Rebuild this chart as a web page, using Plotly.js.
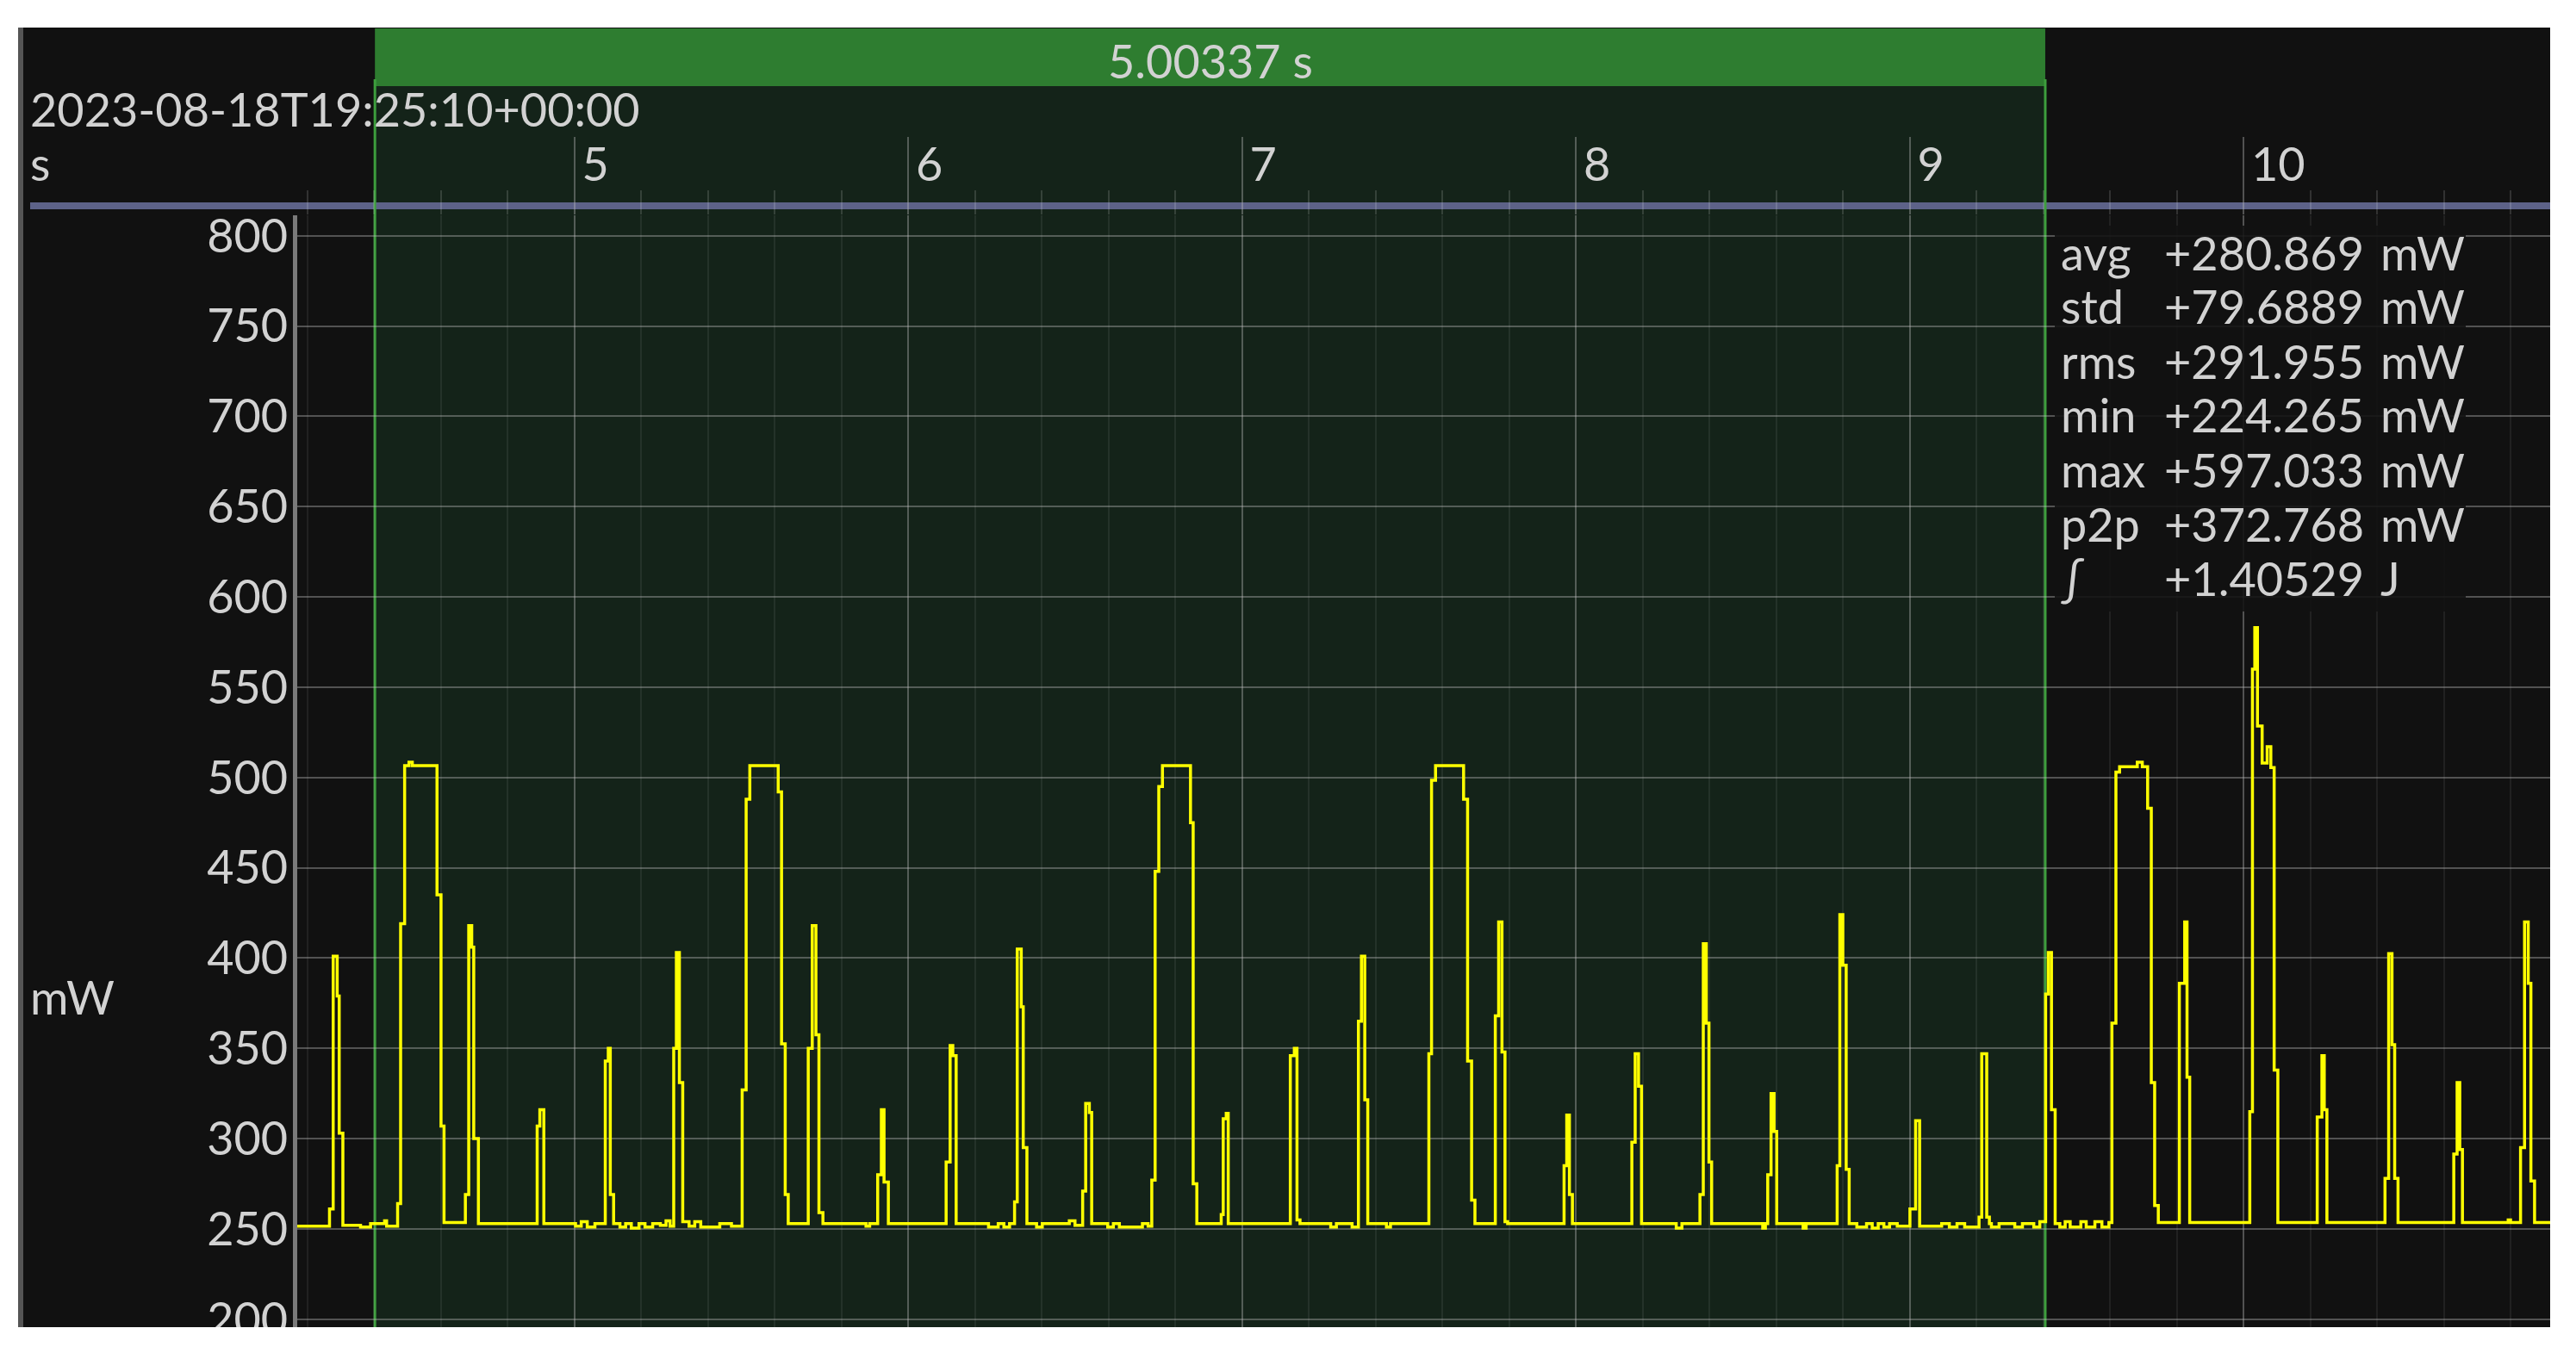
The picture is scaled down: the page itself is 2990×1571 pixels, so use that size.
<!DOCTYPE html>
<html>
<head>
<meta charset="utf-8">
<script src="https://cdn.plot.ly/plotly-3.0.1.min.js"></script>
<style>
  html, body { margin: 0; padding: 0; background: #ffffff; }
  #wrap { position: absolute; left: 21px; top: 32px; width: 2939px; height: 1509px; overflow: hidden; }
  #plot { width: 2939px; height: 1509px; }
</style>
</head>
<body>
<div id="wrap"><div id="plot"></div></div>
<script>
// power trace (s, mW), drawn as steps
var times = [
  4.170, 4.267, 4.278, 4.290, 4.296, 4.307, 4.360, 4.390, 4.432, 4.438,
  4.471, 4.480, 4.492, 4.505, 4.515, 4.589, 4.601, 4.610,
  4.674, 4.684, 4.693, 4.699, 4.713,
  4.889, 4.897, 4.909, 5.004, 5.021, 5.039, 5.062,
  5.093, 5.102, 5.108, 5.118,
  5.137, 5.154, 5.171, 5.194, 5.212, 5.235, 5.258, 5.275, 5.287,
  5.298, 5.306, 5.315, 5.325,
  5.344, 5.361, 5.379, 5.436, 5.471,
  5.503, 5.515, 5.526, 5.611, 5.621, 5.632, 5.641,
  5.701, 5.713, 5.724, 5.733, 5.745, 5.874, 5.885,
  5.909, 5.920, 5.928, 5.941,
  6.114, 6.126, 6.134, 6.144, 6.241, 6.270, 6.287, 6.304,
  6.319, 6.327, 6.339, 6.345, 6.356, 6.385, 6.402, 6.483, 6.500,
  6.523, 6.532, 6.543, 6.550, 6.598, 6.615, 6.633, 6.702, 6.719,
  6.730, 6.740, 6.751, 6.762, 6.846, 6.854, 6.865,
  6.938, 6.944, 6.953, 6.959,
  7.145, 7.157, 7.165, 7.174, 7.266, 7.283, 7.330,
  7.349, 7.358, 7.368, 7.377, 7.433, 7.445,
  7.560, 7.568, 7.580, 7.664, 7.676, 7.688, 7.698,
  7.759, 7.769, 7.779, 7.788, 7.796,
  7.965, 7.973, 7.981, 7.990,
  8.168, 8.178, 8.188, 8.197, 8.301, 8.318,
  8.372, 8.382, 8.391, 8.399, 8.407, 8.560, 8.568,
  8.575, 8.585, 8.594, 8.602, 8.681, 8.690,
  8.783, 8.791, 8.800, 8.810, 8.819,
  8.842, 8.871, 8.888, 8.906, 8.923, 8.940, 8.963,
  9.001, 9.018, 9.030, 9.096, 9.119, 9.142, 9.165,
  9.208, 9.216, 9.231, 9.239, 9.245, 9.268, 9.315, 9.338, 9.372, 9.390,
  9.4075, 9.4155, 9.425, 9.436,
  9.450, 9.466, 9.481, 9.513, 9.529, 9.555, 9.576, 9.597,
  9.606, 9.618, 9.629, 9.682, 9.697, 9.713, 9.724, 9.734, 9.745,
  9.808, 9.824, 9.831, 9.839,
  10.019, 10.027, 10.034, 10.042, 10.056, 10.071, 10.082, 10.092, 10.103,
  10.221, 10.235, 10.242, 10.250,
  10.424, 10.435, 10.445, 10.453, 10.463,
  10.630, 10.640, 10.648, 10.656, 10.793, 10.800,
  10.830, 10.842, 10.853, 10.861, 10.872, 10.919
];
var power = [
  251.5, 261, 401, 379, 303, 252, 251, 253, 254.5, 251.5,
  264, 419, 506.5, 508.5, 506.5, 435, 307, 253.5,
  269, 418, 406, 300, 253,
  307, 316, 253, 251.5, 254, 251, 253,
  343, 350, 269, 253,
  251, 253, 250.5, 253, 251, 253, 252, 254.5, 251.5,
  350, 403, 331, 254,
  251.5, 254, 251, 253, 251.5,
  327, 488, 506.5, 492, 352.5, 269, 253,
  350, 418, 357.5, 259, 253, 251.5, 253,
  280, 316, 276, 253,
  287, 351.5, 346, 253, 251, 253, 251, 253,
  265, 405, 373, 295, 253, 251, 253, 254.5, 252,
  271, 319.5, 314.5, 253, 251, 253, 251, 253, 251.5,
  277, 448, 495, 506.5, 475, 275, 253,
  258, 311, 314, 253,
  346, 350, 255, 253, 251, 253, 251,
  365, 401, 321.5, 253, 251, 253,
  347, 498.5, 506.5, 488, 343, 266, 253,
  368, 420, 348, 254, 253,
  285, 313, 269, 253,
  298, 347, 329, 253, 250.5, 253,
  269, 408, 364, 287, 253, 250.5, 253,
  280, 325, 304, 253, 250.5, 253,
  285, 424, 396, 283, 253,
  251, 253, 250.5, 253, 251, 253, 251.5,
  261, 310, 251.5, 253, 251, 253, 251,
  256.5, 347, 256.5, 253, 251, 253, 251, 253, 251, 254,
  380, 403, 316, 253,
  251, 254, 251, 254, 251, 254, 251, 253.5,
  364, 503, 506, 508.5, 506, 483, 331, 263, 253.5,
  386, 420, 334, 253.5,
  315, 560, 583, 528.5, 508, 517, 505.5, 338, 253.5,
  312, 346, 316, 253.5,
  278, 402.5, 352, 278, 253.5,
  291.5, 331, 294, 253.5, 255, 253.5,
  295, 420, 386, 276.5, 253.5, 253.5
];

var selStart = 4.403;
var selDuration = 5.00337;
var selEnd = selStart + selDuration;
var stampText = '2023-08-18T19:25:10+00:00';

var statNames = ['avg', 'std', 'rms', 'min', 'max', 'p2p', '\u222B'];
var statValues = ['+280.869', '+79.6889', '+291.955', '+224.265', '+597.033', '+372.768', '+1.40529'];
var statUnits = ['mW', 'mW', 'mW', 'mW', 'mW', 'mW', 'J'];

var xRange = [4.1703, 10.9187];
var yRange = [195.6, 811.3];

// plot box in page pixels
var PL = 345, PR = 2960, PT = 250, PB = 1541;
function px(X) { return (X - PL) / (PR - PL); }
function py(Y) { return (PB - Y) / (PB - PT); }
function fx(t) { return (t - xRange[0]) / (xRange[1] - xRange[0]); }

var txt = '#d2d2d2';
var fnt = 'Lato, "Open Sans", sans-serif';
var grid = 'rgba(190,190,190,0.38)';

var shapes = [
  {type: 'rect', xref: 'paper', yref: 'paper', x0: fx(selStart), x1: fx(selEnd), y0: 0, y1: py(100),
   fillcolor: '#142319', line: {width: 0}, layer: 'below'},
  {type: 'rect', xref: 'paper', yref: 'paper', x0: fx(selStart), x1: fx(selEnd), y0: py(100), y1: py(33),
   fillcolor: '#2e7d30', line: {width: 0}, layer: 'below'},
  {type: 'line', xref: 'paper', yref: 'paper', x0: px(35), x1: 1, y0: py(239), y1: py(239),
   line: {color: '#5d6288', width: 8}, layer: 'below'},
  {type: 'line', xref: 'paper', yref: 'paper', x0: fx(selStart), x1: fx(selStart), y0: 0, y1: py(92),
   line: {color: '#3d9e3d', width: 3}, layer: 'below'},
  {type: 'line', xref: 'paper', yref: 'paper', x0: fx(selEnd), x1: fx(selEnd), y0: 0, y1: py(92),
   line: {color: '#3d9e3d', width: 3}, layer: 'below'},
  {type: 'line', xref: 'paper', yref: 'paper', x0: px(24), x1: px(24), y0: 0, y1: py(32),
   line: {color: '#555555', width: 6}, layer: 'below'},
  {type: 'rect', xref: 'paper', yref: 'paper', x0: px(2385), x1: px(2862), y0: py(710), y1: py(262),
   fillcolor: '#111111', opacity: 0.88, line: {width: 0}, layer: 'above'}
];

var annotations = [
  {text: stampText, x: px(33), y: py(126), xanchor: 'left', yanchor: 'middle'},
  {text: 's', x: px(33), y: py(190), xanchor: 'left', yanchor: 'middle'},
  {text: 'mW', x: px(33), y: py(1157), xanchor: 'left', yanchor: 'middle'},
  {text: selDuration.toFixed(5) + ' s', x: fx((selStart + selEnd) / 2), y: py(71), xanchor: 'center', yanchor: 'middle'}
];
for (var i = 0; i < statNames.length; i++) {
  var yy = py(293 + 63 * i);
  annotations.push({text: statNames[i], x: px(2390), y: yy, xanchor: 'left', yanchor: 'middle'});
  annotations.push({text: statValues[i], x: px(2510), y: yy, xanchor: 'left', yanchor: 'middle'});
  annotations.push({text: statUnits[i], x: px(2761), y: yy, xanchor: 'left', yanchor: 'middle'});
}
annotations.forEach(function (a) {
  a.xref = 'paper'; a.yref = 'paper'; a.showarrow = false;
  a.font = {family: fnt, size: 54, color: txt};
});

var trace = {
  x: times, y: power, type: 'scatter', mode: 'lines',
  line: {color: '#ffff00', width: 3.5, shape: 'hv'},
  hoverinfo: 'skip'
};

var layout = {
  width: 2939, height: 1509,
  margin: {l: PL - 21, r: 0, t: PT - 32, b: 0},
  paper_bgcolor: '#111111',
  plot_bgcolor: '#111111',
  showlegend: false,
  xaxis: {
    range: xRange, side: 'top', tick0: 0, dtick: 1,
    showgrid: true, gridcolor: grid, gridwidth: 2, zeroline: false, showline: false,
    ticks: 'outside', ticklen: 90, tickwidth: 2, tickcolor: grid,
    ticklabelposition: 'outside right', ticklabelstandoff: 17, ticklabelshift: 8,
    tickfont: {family: fnt, size: 54, color: txt},
    minor: {dtick: 0.2, showgrid: true, gridcolor: 'rgba(255,255,255,0.07)', gridwidth: 2,
            ticks: 'outside', ticklen: 28, tickwidth: 2, tickcolor: 'rgba(255,255,255,0.14)'}
  },
  yaxis: {
    range: yRange, tick0: 0, dtick: 50,
    showgrid: true, gridcolor: grid, gridwidth: 2, zeroline: false,
    showline: true, linecolor: '#7a7a7a', linewidth: 5,
    ticks: '', ticklabelstandoff: -5, ticklabeloverflow: 'allow',
    tickfont: {family: fnt, size: 54, color: txt}
  },
  shapes: shapes,
  annotations: annotations
};

Plotly.newPlot('plot', [trace], layout, {staticPlot: true});
</script>
</body>
</html>
